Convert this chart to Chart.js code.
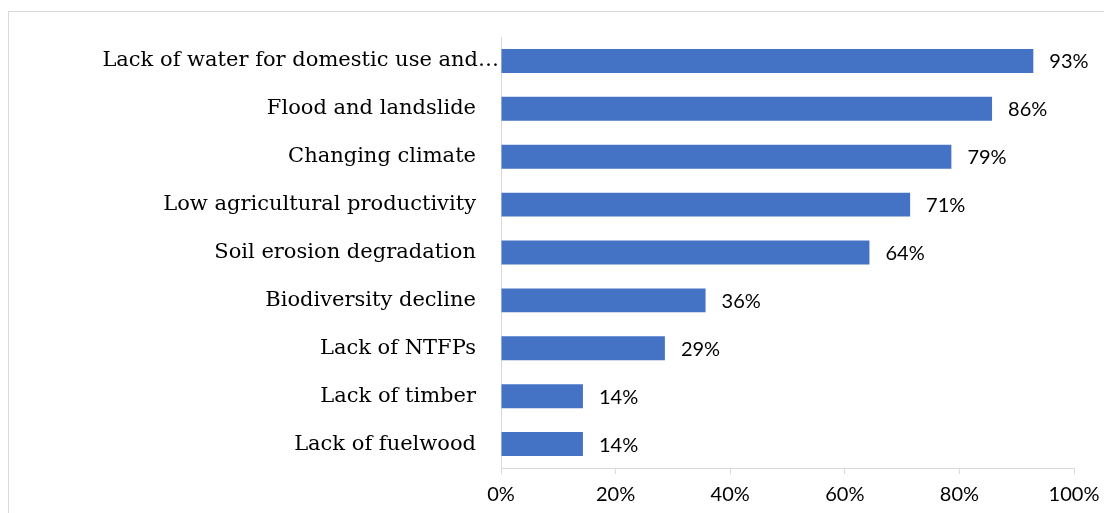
<!DOCTYPE html>
<html>
<head>
<meta charset="utf-8">
<script src="https://cdn.jsdelivr.net/npm/chart.js@4"></script>
<style>
  html, body { margin: 0; padding: 0; background: #fff; overflow: hidden; }
  #frame { position: absolute; left: 8px; top: 11px; width: 1200px; height: 600px; border: 1px solid #d9d9d9; }
  #wrap { position: absolute; left: 0; top: 0; width: 1104px; height: 513px; }
</style>
</head>
<body>
<div id="frame"></div>
<div id="wrap"><canvas id="myChart" width="1104" height="513"></canvas></div>
<script>
// Categories, top to bottom
const categories = [
    'Lack of water for domestic use and…',
    'Flood and landslide',
    'Changing climate',
    'Low agricultural productivity',
    'Soil erosion degradation',
    'Biodiversity decline',
    'Lack of NTFPs',
    'Lack of timber',
    'Lack of fuelwood'
];
// Share of respondents (%)
const shares = [92.9, 85.7, 78.6, 71.4, 64.3, 35.7, 28.6, 14.3, 14.3];
const xTicks = [0, 20, 40, 60, 80, 100];

const serif = '"DejaVu Serif", serif';
const sans = 'Lato, "Liberation Sans", sans-serif';

// draws the category names left of the axis and the % labels after each bar
const labelPlugin = {
    id: 'labels',
    afterDatasetsDraw(chart) {
        const c = chart.ctx;
        const yScale = chart.scales.y;
        const meta = chart.getDatasetMeta(0);
        c.save();
        c.fillStyle = '#000';
        c.textBaseline = 'middle';
        c.font = '21px ' + serif;
        c.textAlign = 'right';
        categories.forEach((name, i) => {
            const y = yScale.getPixelForTick(i);
            const x = i === 0 ? yScale.right - 2 : yScale.right - 25;
            c.fillText(name, x, y);
        });
        c.font = '20px ' + sans;
        c.textAlign = 'left';
        meta.data.forEach((bar, i) => {
            c.fillText(Math.round(shares[i]) + '%', bar.x + 16, bar.y + 1);
        });
        c.restore();
    }
};

const ctx = document.getElementById('myChart').getContext('2d');
const myChart = new Chart(ctx, {
    type: 'bar',
    data: {
        labels: categories,
        datasets: [{
            data: shares,
            backgroundColor: '#4472C4',
            barPercentage: 0.5,
            categoryPercentage: 1.0
        }]
    },
    options: {
        indexAxis: 'y',
        responsive: false,
        animation: false,
        layout: { padding: { top: 37, right: 30, left: 0, bottom: 0 } },
        plugins: { legend: { display: false }, tooltip: { enabled: false } },
        scales: {
            x: {
                min: 0,
                max: 100,
                afterBuildTicks(scale) {
                    scale.ticks = xTicks.map(v => ({ value: v }));
                },
                afterFit(scale) {
                    scale.height = 45;
                    scale.paddingRight = 0;
                    scale.paddingLeft = 0;
                },
                grid: { drawOnChartArea: false, drawTicks: true, tickLength: 6, color: '#d9d9d9' },
                border: { color: '#d9d9d9' },
                ticks: {
                    padding: 9,
                    color: '#000',
                    font: { family: sans, size: 20 },
                    maxRotation: 0,
                    callback: v => v + '%'
                }
            },
            y: {
                afterFit(scale) { scale.width = 501; },
                grid: { drawOnChartArea: false, drawTicks: false },
                border: { color: '#d9d9d9' },
                ticks: { display: false }
            }
        }
    },
    plugins: [labelPlugin]
});
</script>
</body>
</html>
